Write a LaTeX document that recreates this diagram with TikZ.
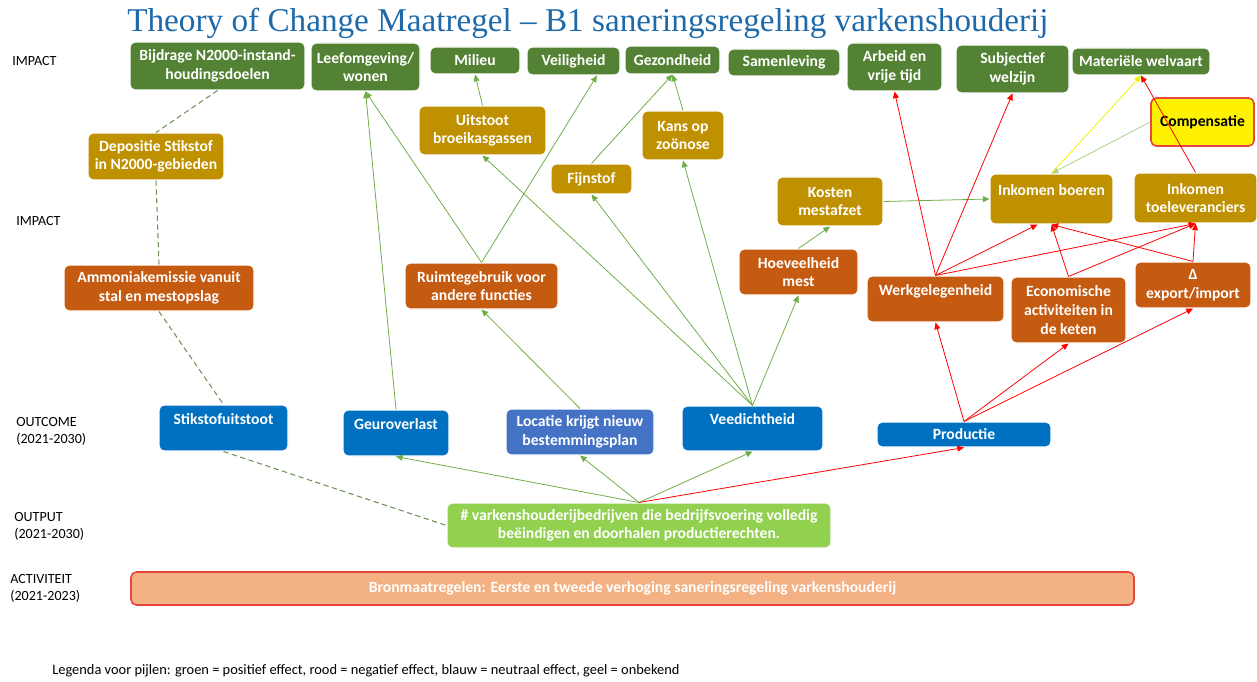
\documentclass[tikz,border=0pt]{standalone}
\usepackage{fontspec}
\setmainfont{Carlito}
\newfontfamily\titlefont{Liberation Serif}
\usetikzlibrary{arrows.meta,positioning}

\definecolor{tocgreen}{RGB}{84,130,53}
\definecolor{tocgold}{RGB}{191,144,0}
\definecolor{tocorange}{RGB}{197,90,17}
\definecolor{tocblue}{RGB}{0,112,192}
\definecolor{toclblue}{RGB}{68,114,196}
\definecolor{toclime}{RGB}{146,208,80}
\definecolor{tocsalmon}{RGB}{244,177,131}
\definecolor{tocred}{RGB}{232,70,60}
\definecolor{toctitle}{RGB}{30,105,170}
\definecolor{arrpos}{RGB}{112,173,71}
\definecolor{arrlight}{RGB}{169,209,142}
\definecolor{arrneg}{RGB}{255,0,0}
\definecolor{arrunk}{RGB}{240,240,0}
\definecolor{arrdash}{RGB}{110,145,90}

\tikzset{
  sz/.style 2 args={minimum width=#1*0.02cm, minimum height=#2*0.02cm},
  box/.style={rounded corners=3pt, draw=white, line width=0.6pt, text=white,
    font=\fontsize{8.9}{10.6}\selectfont\bfseries, align=center, inner sep=1pt},
  goal/.style={box, fill=tocgreen},
  effect/.style={box, fill=tocgold},
  impact/.style={box, fill=tocorange},
  outcome/.style={box, fill=tocblue},
  level/.style={anchor=west, align=left, font=\fontsize{8}{9.6}\selectfont, inner sep=0pt},
  posarrow/.style={->, draw=arrpos, line width=0.45pt},
  negarrow/.style={->, draw=arrneg, line width=0.45pt},
  unkarrow/.style={->, draw=arrunk, line width=0.45pt},
  dashline/.style={draw=arrdash, line width=0.6pt, dash pattern=on 3pt off 2pt},
}

\begin{document}
\begin{tikzpicture}[x=0.02cm, y=-0.02cm, >={Triangle[length=3.8pt,width=3.4pt]}]
  \useasboundingbox (0,0) rectangle (1257,682);

  % title
  \node[anchor=base west, inner sep=0pt, text=toctitle, font=\titlefont\fontsize{18.9}{20}\selectfont]
    (title) at (127,32) {Theory of Change Maatregel – B1 saneringsregeling varkenshouderij};

  % levels
  \node[level] (lvimpact) at (12,61) {IMPACT};
  \node[level] (lvimpact2) at (16,221) {IMPACT};
  \node[level] (lvoutcome) at (16,431) {OUTCOME\\(2021-2030)};
  \node[level] (lvoutput) at (14,526) {OUTPUT\\(2021-2030)};
  \node[level] (lvactiv) at (10,588) {ACTIVITEIT\\(2021-2023)};

  % impact top row
  \node[goal, sz={175}{48}] (bijdrage) at (217.5,66) {Bijdrage N2000-instand-\\houdingsdoelen};
  \node[goal, sz={109}{48}] (leef) at (365.5,67) {Leefomgeving/\\wonen};
  \node[goal, sz={90}{27}] (milieu) at (475,60.5) {Milieu};
  \node[goal, sz={93}{28}] (veilig) at (573.5,61) {Veiligheid};
  \node[goal, sz={95}{28}] (gezond) at (672.5,60) {Gezondheid};
  \node[goal, sz={112}{27}] (samen) at (784,62.5) {Samenleving};
  \node[goal, sz={95}{48}] (arbeid) at (894.5,67) {Arbeid en\\vrije tijd};
  \node[goal, sz={113}{48}] (subj) at (1012.5,69) {Subjectief\\welzijn};
  \node[goal, sz={138}{27}] (welvaart) at (1141,61.5) {Materiële welvaart};

  % impact second row
  \node[effect, sz={136}{47}] (depositie) at (156,156.5) {Depositie Stikstof\\in N2000-gebieden};
  \node[effect, sz={127}{49}] (uitstoot) at (482.5,130.5) {Uitstoot\\broeikasgassen};
  \node[effect, sz={82}{49}] (kans) at (683,135.5) {Kans op\\zoönose};
  \node[effect, sz={81}{30}] (fijnstof) at (591.5,179) {Fijnstof};
  \node[effect, sz={106}{49}] (kosten) at (830,201.5) {Kosten\\mestafzet};
  \node[effect, sz={123}{50}] (boeren) at (1051.5,199) {Inkomen boeren\\\mbox{}};
  \node[effect, sz={123}{50}] (toelev) at (1195.5,198) {Inkomen\\toeleveranciers};
  \node[box, fill=yellow, draw=tocred, line width=0.9pt, text=black, sz={103}{48}]
    (comp) at (1202.5,122) {Compensatie};

  % impact third row
  \node[impact, sz={190}{46}] (ammoniak) at (159,288) {Ammoniakemissie vanuit\\stal en mestopslag};
  \node[impact, sz={153}{46}] (ruimte) at (481.5,286) {Ruimtegebruik voor\\andere functies};
  \node[impact, sz={119}{46}] (hoeveel) at (798.5,272) {Hoeveelheid\\mest};
  \node[impact, sz={137}{46}] (werk) at (935.5,299) {Werkgelegenheid\\\mbox{}};
  \node[impact, sz={115}{66}] (econ) at (1068.5,310) {Economische\\activiteiten in\\de keten};
  \node[impact, sz={116}{46}] (delta) at (1193,285) {Δ\\export/import};

  % outcome
  \node[outcome, sz={129}{46}] (stikstof) at (223.5,428) {Stikstofuitstoot\\\mbox{}};
  \node[outcome, sz={106}{46}] (geur) at (396,433) {Geuroverlast\\\mbox{}};
  \node[box, fill=toclblue, sz={148}{46}] (locatie) at (580,432) {Locatie krijgt nieuw\\bestemmingsplan};
  \node[outcome, sz={141}{45}] (veed) at (752.5,428.5) {Veedichtheid\\\mbox{}};
  \node[outcome, sz={174}{25}] (prod) at (964,434.5) {Productie};

  % output and activity
  \node[box, fill=toclime, sz={384}{45}] (output) at (639,525.5)
    {\# varkenshouderijbedrijven die bedrijfsvoering volledig\\beëindigen en doorhalen productierechten.};
  \node[box, fill=tocsalmon, draw=tocred, line width=0.9pt, sz={1003}{33}] (bron) at (632.5,588.5)
    {Bronmaatregelen: Eerste en tweede verhoging saneringsregeling varkenshouderij};

  % legend
  \node[anchor=west, inner sep=0pt, font=\fontsize{8.2}{9.6}\selectfont] (legenda) at (52,671)
    {Legenda voor pijlen: groen = positief effect, rood = negatief effect, blauw = neutraal effect, geel = onbekend};

  % stikstof chain
  \draw[dashline] (bijdrage.south) -- (depositie.north);
  \draw[dashline] (depositie.south) -- (ammoniak.north);
  \draw[dashline] (ammoniak.south) -- (stikstof.north);
  \draw[dashline] (stikstof.south) -- (output.west);

  % from output
  \draw[posarrow] (output.north) -- (geur.south);
  \draw[posarrow] (output.north) -- (locatie.south);
  \draw[posarrow] (output.north) -- (veed.south);
  \draw[negarrow] (output.north) -- (prod.south);

  % outcome to impact
  \draw[posarrow] (geur.north) -- (leef.south);
  \draw[posarrow] (locatie.north) -- (ruimte.south);
  \draw[posarrow] (ruimte.north) -- (leef.south);
  \draw[posarrow] (ruimte.north) -- ([xshift=0.47cm]veilig.south);
  \draw[posarrow] (veed.north) -- (uitstoot.south);
  \draw[posarrow] (veed.north) -- (fijnstof.south);
  \draw[posarrow] (veed.north) -- (kans.south);
  \draw[posarrow] (veed.north) -- (hoeveel.south);
  \draw[posarrow] (fijnstof.north) -- (gezond.south);
  \draw[posarrow] (kans.north) -- (gezond.south);
  \draw[posarrow] (uitstoot.north) -- (milieu.south);
  \draw[posarrow] (hoeveel.north) -- (kosten.south);
  \draw[posarrow] (kosten.east) -- (boeren.west);
  \draw[posarrow, draw=arrlight] (comp.west) -- (boeren.north);
  \draw[unkarrow] (boeren.north) -- (welvaart.south);
  \draw[negarrow] (toelev.north) -- (welvaart.south);

  % productie chain
  \draw[negarrow] (prod.north) -- (werk.south);
  \draw[negarrow] (prod.north) -- (econ.south);
  \draw[negarrow] (prod.north) -- (delta.south);
  \draw[negarrow] (werk.north) -- (arbeid.south);
  \draw[negarrow] (werk.north) -- (subj.south);
  \draw[negarrow] (werk.north) -- ([xshift=-0.28cm]boeren.south);
  \draw[negarrow] (werk.north) -- (toelev.south);
  \draw[negarrow] (econ.north) -- (boeren.south);
  \draw[negarrow] (econ.north) -- (toelev.south);
  \draw[negarrow] (delta.north) -- (boeren.south);
  \draw[negarrow] (delta.north) -- (toelev.south);
\end{tikzpicture}
\end{document}
